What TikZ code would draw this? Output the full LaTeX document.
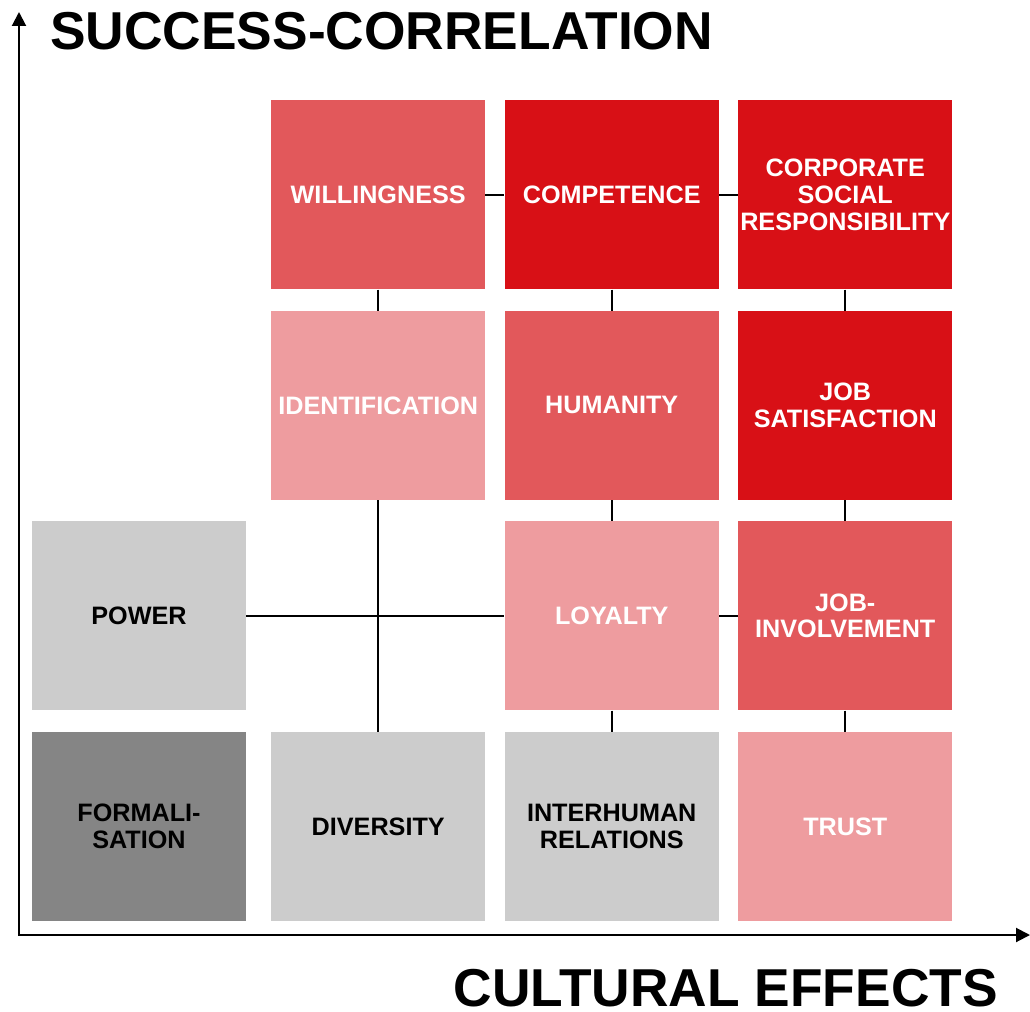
\documentclass[tikz,border=0pt]{standalone}
\usepackage{fontspec}
\setmainfont{Liberation Sans}
\usetikzlibrary{arrows.meta,positioning}

\definecolor{deepred}{HTML}{D81016}
\definecolor{midred}{HTML}{E2585B}
\definecolor{rose}{HTML}{EE9C9F}
\definecolor{lightgrey}{HTML}{CCCCCC}
\definecolor{darkgrey}{HTML}{858585}

\begin{document}
\begin{tikzpicture}[>={Triangle[length=10.5pt,width=10.5pt]}, node distance=15.75pt and 14.25pt]
  \tikzstyle{cell}=[align=center, inner sep=0pt, minimum width=160.5pt, minimum height=141.75pt, font=\fontsize{18.9}{20}\selectfont\bfseries]
  \tikzstyle{hot}=[cell, fill=deepred, text=white]
  \tikzstyle{warm}=[cell, fill=midred, text=white]
  \tikzstyle{mild}=[cell, fill=rose, text=white]
  \tikzstyle{cold}=[cell, fill=lightgrey, text=black]
  \tikzstyle{title}=[inner sep=0pt, font=\fontsize{40}{40}\selectfont\bfseries]
  \tikzstyle{link}=[line width=1.6pt]
  \useasboundingbox (-14.25pt,-57pt) rectangle (758.25pt,701.25pt);

  % bottom row first, the rest stacked on top of it
  \node[cold, fill=darkgrey] (formal) at (90pt,81.375pt) {FORMALI-\\SATION};
  \node[cold, right=18.5pt of formal] (diversity) {DIVERSITY};
  \node[cold, right=of diversity] (interhuman) {INTERHUMAN\\RELATIONS};
  \node[mild, right=of interhuman] (trust) {TRUST};

  \node[cold, above=of formal] (power) {POWER};
  \node[mild, above=of interhuman] (loyalty) {LOYALTY};
  \node[warm, above=of trust] (involvement) {JOB-\\INVOLVEMENT};

  \node[warm, above=of loyalty] (humanity) {HUMANITY};
  \node[mild, left=of humanity] (identification) {IDENTIFICATION};
  \node[hot, above=of involvement] (satisfaction) {JOB\\SATISFACTION};

  \node[warm, above=of identification] (willingness) {WILLINGNESS};
  \node[hot, above=of humanity] (competence) {COMPETENCE};
  \node[hot, above=of satisfaction] (csr) {CORPORATE\\SOCIAL\\RESPONSIBILITY};

  \draw[link] (willingness) -- (competence);
  \draw[link] (competence) -- (csr);
  \draw[link] (power) -- (loyalty);
  \draw[link] (loyalty) -- (involvement);
  \draw[link] (willingness) -- (identification);
  \draw[link] (identification) -- (diversity);
  \draw[link] (competence) -- (humanity);
  \draw[link] (humanity) -- (loyalty);
  \draw[link] (loyalty) -- (interhuman);
  \draw[link] (csr) -- (satisfaction);
  \draw[link] (satisfaction) -- (involvement);
  \draw[link] (involvement) -- (trust);

  % axes
  \coordinate (origin) at (0,0);
  \coordinate (ytip) at (0,692.25pt);
  \coordinate (xtip) at (758.25pt,0);
  \draw[<->, line width=1.5pt] (ytip) -- (origin) -- (xtip);

  \node[title, anchor=base west] (ylabel) at (23.25pt,663.75pt) {SUCCESS-CORRELATION};
  \node[title, anchor=base east] (xlabel) at (734.25pt,-53.75pt) {CULTURAL EFFECTS};
\end{tikzpicture}
\end{document}
